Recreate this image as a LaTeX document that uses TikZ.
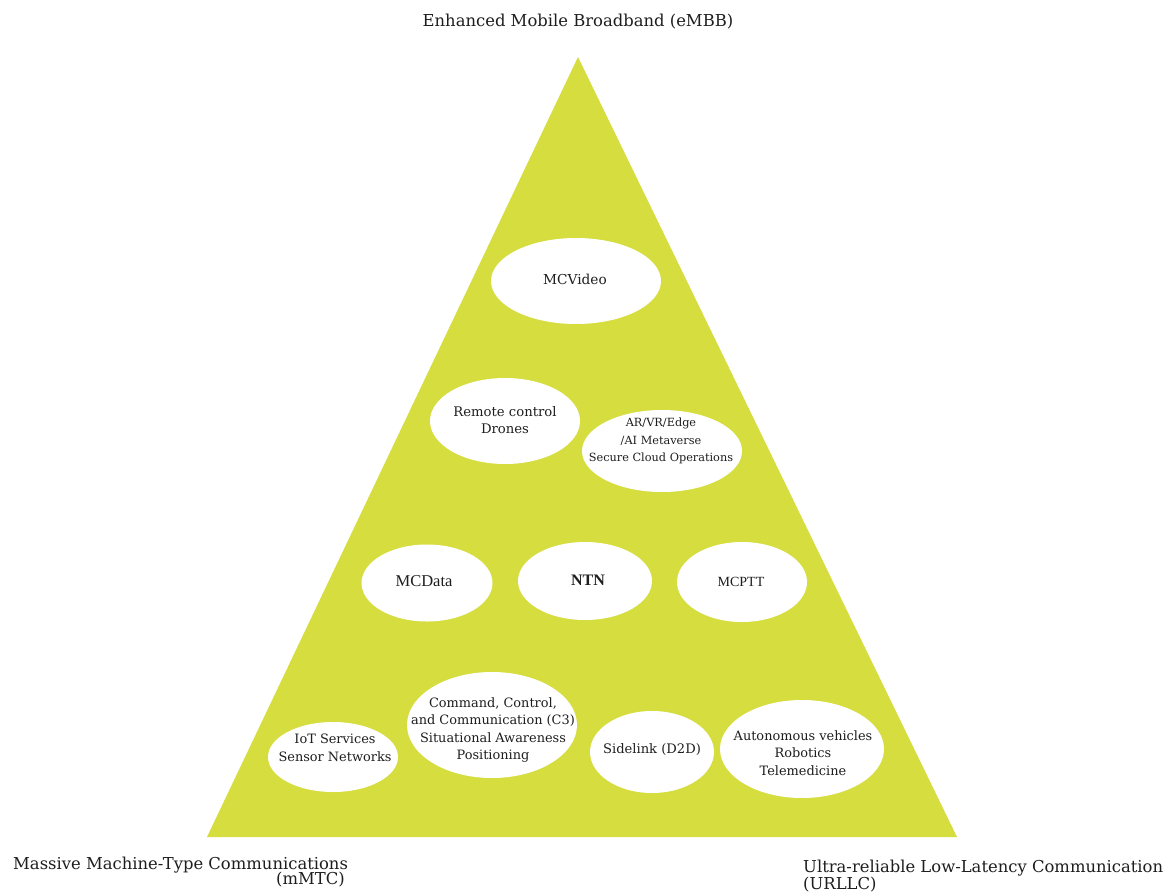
\documentclass[tikz,border=0pt]{standalone}
\usepackage{fontspec}
\setmainfont{DejaVu Serif}
\newfontfamily\timesfont{Liberation Serif}
\usetikzlibrary{shapes.geometric}
\definecolor{pyr}{RGB}{214,221,62}
\definecolor{ink}{RGB}{30,30,30}
\tikzset{
  bub/.style={ellipse, fill=white, draw=none, inner sep=0pt},
  txt/.style={align=center, inner sep=0pt, font=\fontsize{12.9}{17.6}\selectfont, text=ink},
  lab/.style={inner sep=0pt, font=\fontsize{16.4}{20}\selectfont, text=ink}
}
\begin{document}
\begin{tikzpicture}[x=1pt,y=-1pt]
\useasboundingbox (0,0) rectangle (1171,895);
\fill[white] (0,0) rectangle (1171,895);
% pyramid
\coordinate (apex) at (578,57);
\coordinate (bl) at (207,837);
\coordinate (br) at (957,837);
\fill[pyr] (apex) -- (br) -- (bl) -- cycle;
% bubbles
\node[bub, minimum width=170, minimum height=86] (mcv) at (576,281) {};
\node[txt, font=\fontsize{13.7}{17}\selectfont] at (575,279) {MCVideo};
\node[bub, minimum width=150, minimum height=86] (rcd) at (505,421) {};
\node[txt, font=\fontsize{13.2}{17}\selectfont] at (505,420) {Remote control\\Drones};
\node[bub, minimum width=160, minimum height=82] (arvr) at (662,451) {};
\node[txt, font=\fontsize{11.3}{17.5}\selectfont] at (661,441) {AR/VR/Edge\\/AI Metaverse\\Secure Cloud Operations};
\node[bub, minimum width=131, minimum height=77] (mcd) at (427,583) {};
\node[txt, font=\timesfont\fontsize{16.5}{18}\selectfont] at (424,581) {MCData};
\node[bub, minimum width=134, minimum height=78] (ntn) at (585,581) {};
\node[txt, font=\timesfont\fontsize{16}{18}\selectfont\bfseries] at (588,580) {NTN};
\node[bub, minimum width=130, minimum height=80] (mcp) at (742,582) {};
\node[txt, font=\timesfont\fontsize{14}{18}\selectfont] at (741,582) {MCPTT};
\node[bub, minimum width=130, minimum height=70] (iot) at (333,757) {};
\node[txt] at (335,748) {IoT Services\\Sensor Networks};
\node[bub, minimum width=170, minimum height=106] (c3) at (492,725) {};
\node[txt] at (493,730) {Command, Control,\\and Communication (C3)\\Situational Awareness\\Positioning};
\node[bub, minimum width=124, minimum height=82] (sl) at (652,752) {};
\node[txt, font=\fontsize{13.1}{17}\selectfont] at (652,750) {Sidelink (D2D)};
\node[bub, minimum width=164, minimum height=98] (av) at (802,749) {};
\node[txt] at (803,753) {Autonomous vehicles\\Robotics\\Telemedicine};
% labels
\node[lab] (embb) at (578,22) {Enhanced Mobile Broadband (eMBB)};
\node[lab, anchor=base west] (mmtc) at (13,869) {Massive Machine-Type Communications};
\node[lab, anchor=base east] (mmtc2) at (345,884) {(mMTC)};
\node[lab, anchor=base west] (urllc) at (803,872) {Ultra-reliable Low-Latency Communication};
\node[lab, anchor=base west] (urllc2) at (803,889) {(URLLC)};
\end{tikzpicture}
\end{document}
